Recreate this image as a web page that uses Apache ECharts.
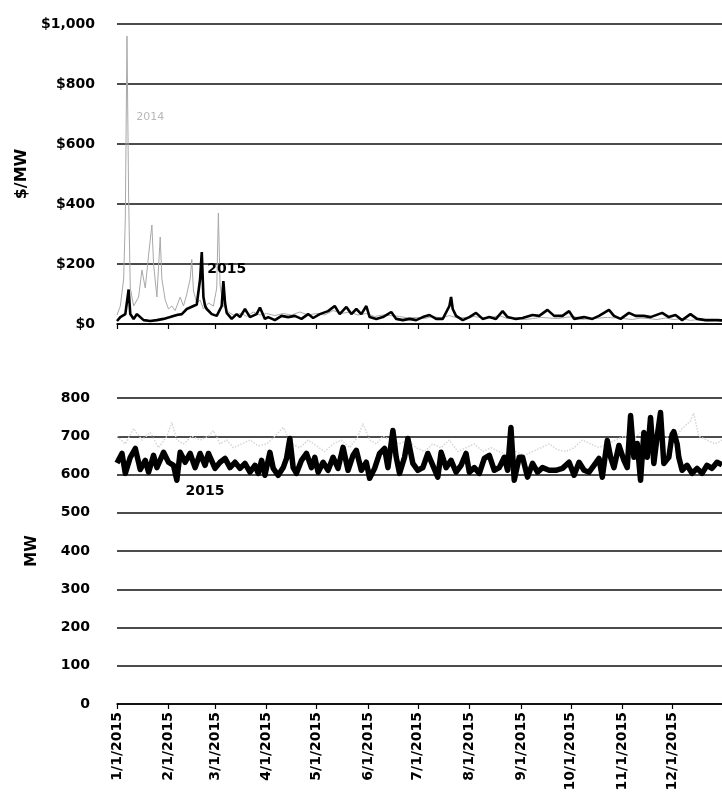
<!DOCTYPE html>
<html>
<head>
<meta charset="utf-8">
<script src="https://cdn.jsdelivr.net/npm/echarts@6/dist/echarts.min.js"></script>
<style>
html,body{margin:0;padding:0;background:#fff;}
#chart{width:722px;height:809px;}
</style>
</head>
<body>
<div id="chart"></div>
<script>
// ---- Data (day-of-year index, 0 = 1/1/2015) ----
// Top panel: $/MW
const price2015Days = [0,2,5,7,8,10,12,14,16,20,24,28,32,36,39,42,44,46,48,50,51,52,53,54,57,60,63,64,65,66,69,72,74,77,80,84,86,89,91,95,99,103,107,111,115,118,122,127,131,134,138,141,144,147,150,152,156,160,165,168,172,176,180,184,188,192,196,200,201,202,204,208,212,216,220,224,228,232,235,240,244,250,254,259,263,268,272,275,281,286,290,296,299,303,308,312,317,321,328,332,336,340,345,349,354,361,364];
const price2015 = [10,23,33,115,33,17,33,23,13,10,13,17,23,30,33,50,55,60,65,150,240,90,60,50,33,27,60,143,70,37,17,33,23,50,23,33,55,17,23,13,27,23,27,17,33,20,33,43,60,33,57,33,50,33,60,23,17,23,40,17,13,17,13,23,30,17,17,60,90,50,27,13,23,37,17,23,17,43,23,17,20,30,27,47,27,27,43,17,23,17,27,47,27,17,37,27,27,23,37,23,30,13,33,17,13,13,12];

const price2014Days = [0,2,4,5,6,7,8,10,13,15,17,19,21,22,24,26,27,29,31,33,35,38,40,42,44,45,46,48,50,52,55,58,60,61,62,64,67,70,75,78,82,86,90,95,100,105,110,115,120,125,130,135,140,145,150,155,160,165,170,175,180,185,190,195,200,205,210,215,220,225,230,235,240,245,250,255,260,265,270,275,280,285,290,295,300,305,310,315,320,325,330,335,340,345,350,355,360,364];
const price2014 = [30,60,150,350,960,420,120,60,90,180,120,230,330,200,90,290,150,80,50,60,45,90,60,100,150,215,110,70,80,50,70,60,120,370,130,60,40,30,35,25,40,30,35,28,35,30,40,30,35,30,45,35,40,30,35,25,30,28,25,20,22,18,25,20,28,20,22,25,20,22,28,18,20,15,18,22,20,18,22,25,15,18,20,22,20,18,15,20,18,15,20,15,18,12,15,10,12,10];

// Bottom panel: MW
const mw2015Days = [0,3,5,8,11,14,17,19,22,24,28,31,34,36,38,41,44,47,50,53,55,59,62,65,68,71,74,77,80,83,85,87,89,92,94,97,100,102,104,106,108,111,114,117,119,121,124,127,130,133,136,139,142,144,147,150,152,155,158,161,163,166,168,170,173,175,178,181,184,187,190,193,195,198,201,204,207,210,212,215,218,221,224,227,230,233,235,237,239,240,242,244,247,250,253,256,260,264,268,272,275,278,281,284,287,290,292,295,297,299,302,305,307,309,311,313,315,317,319,321,323,325,327,329,332,334,335,337,338,340,343,346,349,352,355,358,361,364];
const mw2015 = [630,655,603,645,668,613,637,606,650,618,658,632,624,585,658,632,655,618,655,624,655,616,632,642,618,632,616,629,606,624,603,637,598,658,616,598,618,642,694,618,603,637,655,618,645,606,632,611,645,616,671,611,650,663,611,632,590,616,655,668,618,715,645,603,645,694,629,611,618,655,624,593,658,618,637,606,624,655,606,618,603,642,650,611,618,645,611,723,585,580,645,645,593,629,606,618,611,611,616,632,598,632,611,606,624,642,593,689,645,618,676,637,618,754,645,681,585,710,645,749,629,700,762,629,645,705,712,680,645,611,624,603,616,603,624,616,632,625];

const mw2014Days = [0,5,10,15,20,25,30,33,36,40,45,50,55,58,62,66,70,75,80,85,90,95,100,105,110,115,120,125,130,135,140,145,148,152,156,160,165,170,175,180,185,190,195,200,205,210,215,220,225,230,235,240,245,250,255,260,265,270,275,280,285,290,295,300,305,310,315,320,325,330,335,340,345,347,350,355,360,364];
const mw2014 = [700,680,720,690,710,670,700,736,690,680,700,690,700,715,680,690,670,680,690,675,680,700,723,680,670,690,675,660,680,690,670,700,733,690,680,700,690,680,690,670,660,680,670,690,660,670,680,660,670,660,650,660,650,660,670,680,665,660,670,690,680,670,680,690,700,690,710,700,690,700,690,720,740,760,700,690,680,690];

// ---- Categories: every day of 2015 ----
const dayLabels = [];
const monthStart = [];
for (let d = 0; d < 365; d++) {
  const dt = new Date(Date.UTC(2015, 0, 1 + d));
  dayLabels.push((dt.getUTCMonth() + 1) + '/' + dt.getUTCDate() + '/2015');
  monthStart.push(dt.getUTCDate() === 1);
}
const pairs = (days, vals) => days.map((d, i) => [dayLabels[d], vals[i]]);

const FONT = 'DejaVu Sans';
const isStart = (i) => monthStart[i];

function xAxisCfg(gridIndex, showLabels) {
  return {
    type: 'category', gridIndex, data: dayLabels, boundaryGap: false,
    axisLine: { show: true, lineStyle: { color: '#000', width: 1.5 } },
    axisTick: { show: true, interval: isStart, length: 5, lineStyle: { color: '#000', width: 1.2 } },
    axisLabel: {
      show: showLabels, interval: isStart, rotate: 90, margin: 8,
      fontFamily: FONT, fontWeight: 'bold', fontSize: 14, color: '#000'
    },
    splitLine: { show: false }
  };
}

const chart = echarts.init(document.getElementById('chart'), null, { renderer: 'canvas' });
chart.setOption({
  animation: false,
  backgroundColor: '#fff',
  grid: [
    { left: 117, top: 24, width: 611, height: 300 },
    { left: 117, top: 398, width: 611, height: 306 }
  ],
  xAxis: [xAxisCfg(0, false), xAxisCfg(1, true)],
  yAxis: [
    {
      type: 'value', gridIndex: 0, min: 0, max: 1000, interval: 200,
      name: '$/MW', nameLocation: 'middle', nameRotate: 90, nameGap: 73,
      nameTextStyle: { fontFamily: FONT, fontWeight: 'bold', fontSize: 16, color: '#000' },
      axisLine: { show: false }, axisTick: { show: false },
      axisLabel: { margin: 22, fontFamily: FONT, fontWeight: 'bold', fontSize: 14, color: '#000',
        formatter: v => '$' + v.toLocaleString('en-US') },
      splitLine: { show: true, lineStyle: { color: '#111', width: 1.5 } }
    },
    {
      type: 'value', gridIndex: 1, min: 0, max: 800, interval: 100,
      name: 'MW', nameLocation: 'middle', nameRotate: 90, nameGap: 77,
      nameTextStyle: { fontFamily: FONT, fontWeight: 'bold', fontSize: 15, color: '#000' },
      axisLine: { show: false }, axisTick: { show: false },
      axisLabel: { margin: 27, fontFamily: FONT, fontWeight: 'bold', fontSize: 14, color: '#000' },
      splitLine: { show: true, lineStyle: { color: '#111', width: 1.5 } }
    }
  ],
  series: [
    {
      name: '2014', type: 'line', xAxisIndex: 0, yAxisIndex: 0,
      data: pairs(price2014Days, price2014), showSymbol: false, symbol: 'none',
      lineStyle: { color: '#a8a8a8', width: 1 }, z: 2,
      markPoint: { symbol: 'circle', symbolSize: 0, silent: true,
        data: [{ coord: [dayLabels[20], 690], label: { show: true, formatter: '2014', position: 'inside',
          fontFamily: FONT, fontSize: 11, color: '#b8b8b8' } }] }
    },
    {
      name: '2015', type: 'line', xAxisIndex: 0, yAxisIndex: 0,
      data: pairs(price2015Days, price2015), showSymbol: false, symbol: 'none',
      lineStyle: { color: '#000', width: 2.6 }, z: 3,
      markPoint: { symbol: 'circle', symbolSize: 0, silent: true,
        data: [{ coord: [dayLabels[66], 183], label: { show: true, formatter: '2015', position: 'inside',
          fontFamily: FONT, fontWeight: 'bold', fontSize: 14, color: '#000' } }] }
    },
    {
      name: '2014 MW', type: 'line', xAxisIndex: 1, yAxisIndex: 1,
      data: pairs(mw2014Days, mw2014), showSymbol: false, symbol: 'none',
      lineStyle: { color: '#d6d6d6', width: 1.5, type: 'dotted' }, z: 2
    },
    {
      name: '2015 MW', type: 'line', xAxisIndex: 1, yAxisIndex: 1,
      data: pairs(mw2015Days, mw2015), showSymbol: false, symbol: 'none',
      lineStyle: { color: '#000', width: 5.5, join: 'round' }, z: 3,
      markPoint: { symbol: 'circle', symbolSize: 0, silent: true,
        data: [{ coord: [dayLabels[53], 556], label: { show: true, formatter: '2015', position: 'inside',
          fontFamily: FONT, fontWeight: 'bold', fontSize: 14, color: '#000' } }] }
    }
  ]
});
</script>
</body>
</html>
